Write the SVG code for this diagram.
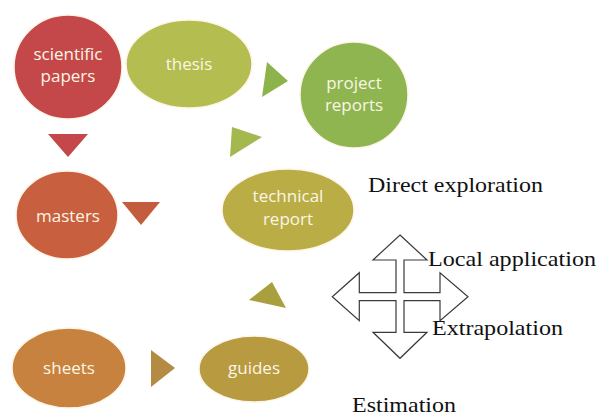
<svg xmlns="http://www.w3.org/2000/svg" width="598" height="419" viewBox="0 0 598 419">
<style>
.nt{font-family:"Open Sans","Liberation Sans",sans-serif;font-size:17px;fill:#fbf6e4;text-anchor:middle}
.lb{font-family:"Liberation Serif","Times New Roman",serif;font-size:22px;fill:#111}
.node{stroke:#fdf6e8;stroke-width:1.5}
</style>
<rect width="598" height="419" fill="#ffffff"/>
<g id="connectors">
<polygon points="48,134 88,134 68,157" fill="#c4474a"/>
<polygon points="122,202 160,202 141,225" fill="#c45d3d"/>
<polygon points="267,62 288,81 262,97" fill="#8db44c"/>
<polygon points="232,127 262,137 230,157" fill="#a3b84e"/>
<polygon points="272,282 249,300 286,308" fill="#a99f3f"/>
<polygon points="151,350 175,368 151,387" fill="#b38b42"/>
</g>
<g id="scientific-papers">
<ellipse class="node" cx="68" cy="67" rx="54" ry="52" fill="#c4484a"/>
<text class="nt" x="68" y="60">scientific</text>
<text class="nt" x="68" y="82">papers</text>
</g>
<g id="thesis">
<ellipse class="node" cx="189" cy="64" rx="63" ry="44" fill="#b4bd4f"/>
<text class="nt" x="189" y="70">thesis</text>
</g>
<g id="project-reports">
<ellipse class="node" cx="354" cy="95" rx="54" ry="53" fill="#8eb550"/>
<text class="nt" x="354" y="89">project</text>
<text class="nt" x="354" y="111">reports</text>
</g>
<g id="masters">
<ellipse class="node" cx="67" cy="215" rx="51" ry="44" fill="#c8603f"/>
<text class="nt" x="68" y="222">masters</text>
</g>
<g id="technical-report">
<ellipse class="node" cx="288" cy="210" rx="66" ry="41" fill="#baad46"/>
<text class="nt" x="288" y="202">technical</text>
<text class="nt" x="288" y="225">report</text>
</g>
<g id="sheets">
<ellipse class="node" cx="69" cy="368" rx="57" ry="40" fill="#c8823f"/>
<text class="nt" x="69" y="374">sheets</text>
</g>
<g id="guides">
<ellipse class="node" cx="254" cy="369" rx="55" ry="33" fill="#b89a41"/>
<text class="nt" x="254" y="374">guides</text>
</g>
<g id="quad-arrow">
<path d="M400,235 L427,260 L404,260 L404,292.7 L440,292.7 L440,272.7 L468,296.7 L440,320.7 L440,300.7 L404,300.7 L404,332.3 L427,332.3 L400,358.3 L373,332.3 L396,332.3 L396,300.7 L359.3,300.7 L359.3,320.7 L332.3,296.7 L359.3,272.7 L359.3,292.7 L396,292.7 L396,260 L373,260 Z" fill="#ffffff" stroke="#3a3a3a" stroke-width="1.2" stroke-linejoin="miter"/>
</g>
<g id="labels">
<text class="lb" x="368" y="192" textLength="175" lengthAdjust="spacingAndGlyphs">Direct exploration</text>
<text class="lb" x="428" y="266" textLength="168" lengthAdjust="spacingAndGlyphs">Local application</text>
<text class="lb" x="432" y="335" textLength="131" lengthAdjust="spacingAndGlyphs">Extrapolation</text>
<text class="lb" x="352" y="412" textLength="104" lengthAdjust="spacingAndGlyphs">Estimation</text>
</g>
</svg>
